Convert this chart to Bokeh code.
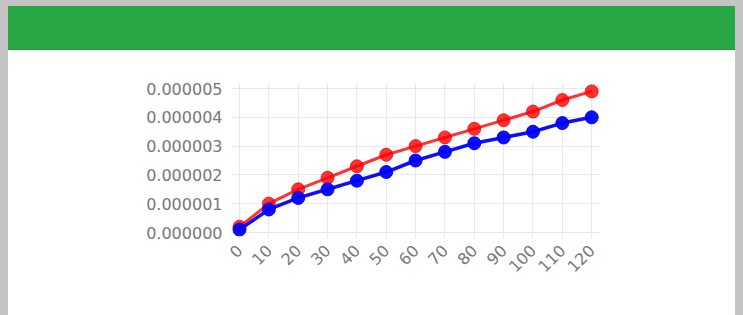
import math
from bokeh.plotting import figure
from bokeh.models import Range1d, FixedTicker, PrintfTickFormatter, Title
from bokeh.embed import file_html
from bokeh.resources import INLINE

# ---- data ----
title_text = "Vacuum pressure vs Time"
time_s = [0, 10, 20, 30, 40, 50, 60, 70, 80, 90, 100, 110, 120]
pressure_red = [0.2e-6, 1.0e-6, 1.5e-6, 1.9e-6, 2.3e-6, 2.7e-6, 3.0e-6,
                3.3e-6, 3.6e-6, 3.9e-6, 4.2e-6, 4.6e-6, 4.9e-6]
pressure_blue = [0.1e-6, 0.8e-6, 1.2e-6, 1.5e-6, 1.8e-6, 2.1e-6, 2.5e-6,
                 2.8e-6, 3.1e-6, 3.3e-6, 3.5e-6, 3.8e-6, 4.0e-6]
x_ticks = [0, 10, 20, 30, 40, 50, 60, 70, 80, 90, 100, 110, 120]
y_ticks = [0, 1e-6, 2e-6, 3e-6, 4e-6, 5e-6]

GREEN = "#28a745"
GRID = "#e8e8e8"
LABEL = "#777777"
PAGE_GRAY = "#c4c4c4"

# ---- layout geometry (canvas pixels) ----
W, H = 743, 315
FL, FR, FT, FB = 231, 600, 83, 236          # frame edges
X0_PX, Y0_PX = 239, 232                     # pixel of x=0 / y=0
KX = 361 / 123                              # px per x unit
KY = 28.8 / 1e-6                            # px per y unit

x_start = (FL - X0_PX) / KX
x_end = (FR - X0_PX) / KX
y_start = (Y0_PX - FB) / KY
y_end = (Y0_PX - FT) / KY

card_bg = ("linear-gradient(#23943d,#23943d) 8px 49px / 727px 1px no-repeat, "
           "linear-gradient(%s,%s) 8px 6px / 727px 44px no-repeat, "
           "linear-gradient(#ffffff,#ffffff) 8px 50px / 727px 265px no-repeat, %s"
           % (GREEN, GREEN, PAGE_GRAY))

p = figure(title=None, frame_width=FR - FL, frame_height=FB - FT,
           min_border_left=FL, min_border_right=W - FR,
           min_border_top=FT, min_border_bottom=H - FB,
           x_range=Range1d(x_start, x_end), y_range=Range1d(y_start, y_end),
           toolbar_location=None, output_backend="svg",
           styles={"background": card_bg})
p.outline_line_color = None
p.background_fill_color = "white"
p.border_fill_color = None

# header: the real title (outermost), then an invisible spacer title next to the frame
p.add_layout(Title(text=title_text, align="left", offset=28 - FL, standoff=0,
                   text_color="white", text_font="Liberation Sans",
                   text_font_size="16px", text_font_style="normal"), "above")
p.add_layout(Title(text=" ", standoff=25, text_font="Liberation Sans",
                   text_font_size="16px", text_color="white", text_alpha=0.0), "above")

# axes
p.xaxis.ticker = FixedTicker(ticks=x_ticks)
p.yaxis.ticker = FixedTicker(ticks=y_ticks)
p.yaxis.formatter = PrintfTickFormatter(format="%.6f")
p.xaxis.major_label_orientation = math.pi / 4

for ax in (p.xaxis, p.yaxis):
    ax.axis_line_color = None
    ax.major_tick_line_color = GRID
    ax.minor_tick_line_color = None
    ax.major_tick_in = 0
    ax.major_label_text_font = "DejaVu Sans"
    ax.major_label_text_font_size = "16px"
    ax.major_label_text_color = LABEL
p.yaxis.major_tick_out = 0
p.yaxis.major_label_standoff = 9
p.xaxis.major_tick_out = 2
p.xaxis.major_label_standoff = 9

p.grid.grid_line_color = GRID
p.grid.grid_line_width = 1

p.line(time_s, pressure_red, line_color="#ff0000", line_alpha=0.8, line_width=3)
p.scatter(time_s, pressure_red, size=13, fill_color="#ff0000", fill_alpha=0.8,
          line_color="#ff0000", line_alpha=0.8)
p.line(time_s, pressure_blue, line_color="#0000ff", line_alpha=0.95, line_width=3.5)
p.scatter(time_s, pressure_blue, size=13, fill_color="#0000ff", fill_alpha=0.95,
          line_color="#0000ff", line_alpha=0.95)

open("out.html", "w").write(file_html(p, INLINE))
